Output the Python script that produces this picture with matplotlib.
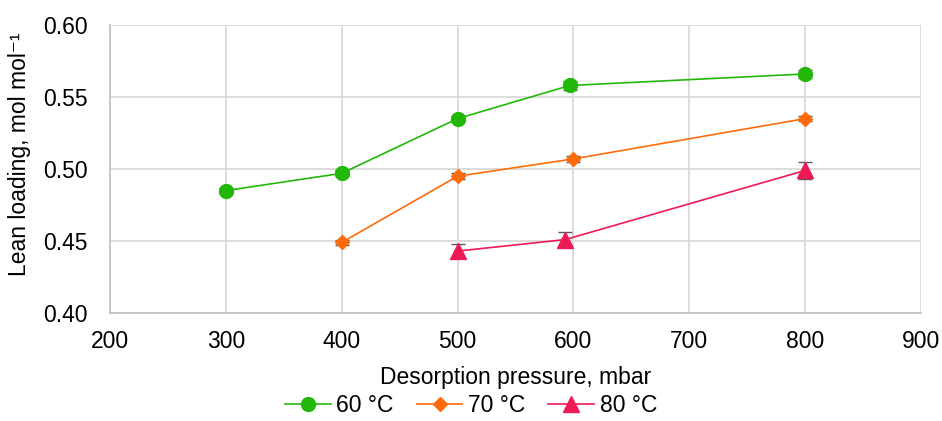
import matplotlib
matplotlib.use("Agg")
import matplotlib.pyplot as plt

plt.rcParams['font.family'] = ['Liberation Sans', 'DejaVu Sans']

# Lean loading vs desorption pressure at three temperatures
p60 = [300, 400, 500, 597, 800]
l60 = [0.485, 0.497, 0.535, 0.558, 0.566]
e60 = [0.002, 0.002, 0.002, 0.003, 0.003]

p70 = [400, 500, 600, 800]
l70 = [0.449, 0.495, 0.507, 0.535]
e70 = [0.002, 0.002, 0.002, 0.002]

p80 = [500, 593, 800]
l80 = [0.443, 0.451, 0.499]
e80 = [0.005, 0.005, 0.006]

fig = plt.figure(figsize=(9.42, 4.21), dpi=100)
ax = fig.add_axes([110/942, 1-313/421, (921-110)/942, (313-25)/421])

ax.errorbar(p60, l60, yerr=e60, color='#22b80a', marker='o', markersize=10, lw=1.2,
            ecolor='#595959', elinewidth=1.2, capsize=5, label='60 °C', zorder=3)
ax.errorbar(p70, l70, yerr=e70, color='#ff6a0a', marker='D', markersize=7.5, lw=1.2,
            ecolor='#595959', elinewidth=1.2, capsize=5, label='70 °C', zorder=3)
ax.errorbar(p80, l80, yerr=e80, color='#ee1a56', marker='^', markersize=11, lw=1.2,
            ecolor='#595959', elinewidth=1.2, capsize=5, label='80 °C', zorder=3)

ax.set_xlim(200, 900)
ax.set_ylim(0.40, 0.60)
ax.set_xticks(range(200, 901, 100))
ax.set_yticks([0.40, 0.45, 0.50, 0.55, 0.60])
ax.set_yticklabels(['0.40', '0.45', '0.50', '0.55', '0.60'])
ax.tick_params(labelsize=16.5, length=0)
ax.tick_params(axis='x', pad=12)
ax.tick_params(axis='y', pad=16)
ax.grid(True, color='#d9d9d9', lw=1.3)
ax.set_axisbelow(True)
for s in ['top', 'right']:
    ax.spines[s].set_visible(False)
for s in ['left', 'bottom']:
    ax.spines[s].set_color('#bfbfbf')
    ax.spines[s].set_linewidth(1.2)

ax.set_xlabel('Desorption pressure, mbar', fontsize=16.5)
ax.xaxis.set_label_coords(0.5, -0.185)
ax.set_ylabel('Lean loading, mol mol⁻¹', fontsize=16.5)
ax.yaxis.set_label_coords(-0.097, 0.55)

h, l = ax.get_legend_handles_labels()
h = [x[0] for x in h]
fig.legend(h, l, loc='lower center', bbox_to_anchor=(0.5, -0.04), ncol=3, frameon=False,
           fontsize=16.5, handlelength=2.0, columnspacing=1.0, handletextpad=0.25)

fig.savefig('out.png', dpi=100)
